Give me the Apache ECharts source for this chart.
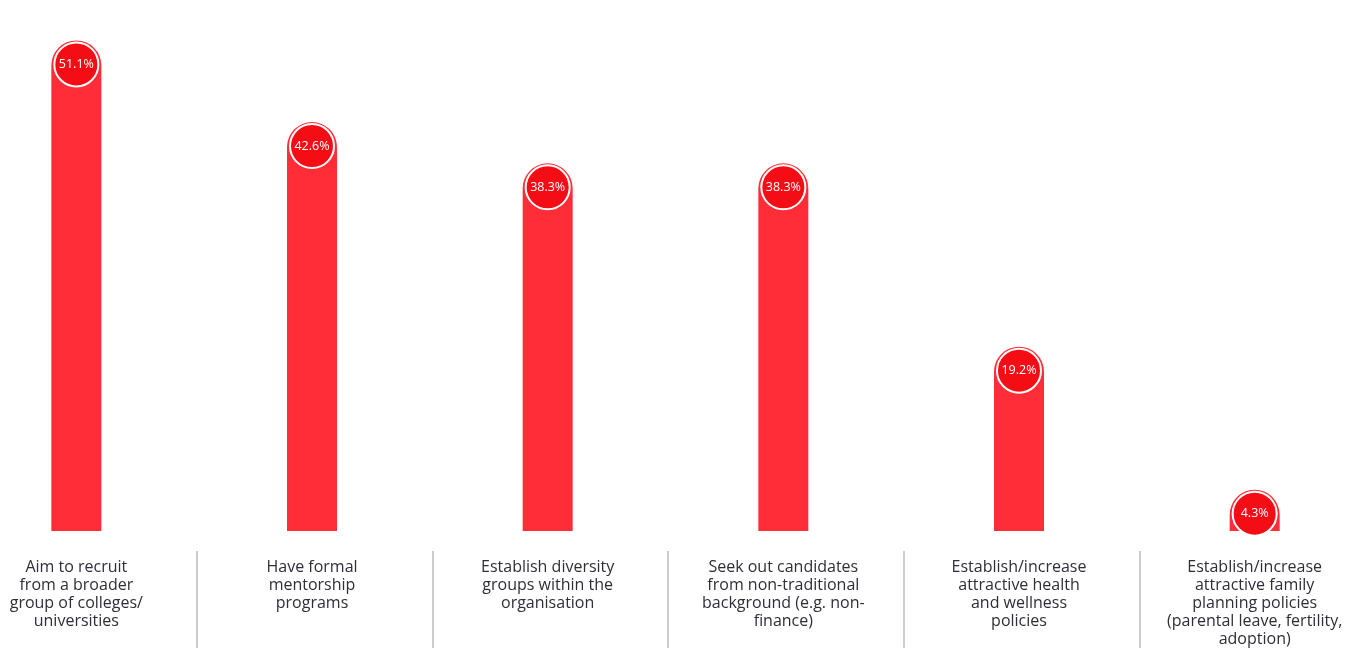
<!DOCTYPE html>
<html>
<head>
<meta charset="utf-8">
<script src="https://cdn.jsdelivr.net/npm/echarts@6/dist/echarts.min.js"></script>
<style>
html,body{margin:0;padding:0;background:#fff;}
#chart{width:1362px;height:648px;}
</style>
</head>
<body>
<div id="chart"></div>
<script>
const categories = [
  "Aim to recruit\nfrom a broader\ngroup of colleges/\nuniversities",
  "Have formal\nmentorship\nprograms",
  "Establish diversity\ngroups within the\norganisation",
  "Seek out candidates\nfrom non-traditional\nbackground (e.g. non-\nfinance)",
  "Establish/increase\nattractive health\nand wellness\npolicies",
  "Establish/increase\nattractive family\nplanning policies\n(parental leave, fertility,\nadoption)"
];
const values = [51.1, 42.6, 38.3, 38.3, 19.2, 4.3];

const FONT = "'Open Sans', 'Noto Sans', sans-serif";
const chart = echarts.init(document.getElementById('chart'));
chart.setOption({
  animation: false,
  backgroundColor: '#ffffff',
  grid: [
    {left: -41.5, width: 1414, top: 3, bottom: 117, containLabel: false, outerBoundsMode: 'none'},
    {left: -39, width: 1414, top: 3, bottom: 97, containLabel: false, outerBoundsMode: 'none'}
  ],
  xAxis: [
    {
      type: 'category', gridIndex: 0, data: categories,
      axisLine: {show: false}, axisTick: {show: false},
      axisLabel: {interval: 0, margin: 27, fontSize: 16, lineHeight: 18,
        color: '#2e2e38', fontFamily: FONT, verticalAlign: 'top'}
    },
    {
      type: 'category', gridIndex: 1, data: categories,
      axisLine: {show: false, onZero: false},
      axisTick: {show: true, length: 100, lineStyle: {color: '#bdbdbd', width: 1.5}},
      axisLabel: {show: false}
    }
  ],
  yAxis: [
    {type: 'value', gridIndex: 0, min: 0, max: 55, show: false},
    {type: 'value', gridIndex: 1, min: 0, max: 55, show: false}
  ],
  series: [
    {
      type: 'bar', xAxisIndex: 0, yAxisIndex: 0, data: values,
      barWidth: 50,
      itemStyle: {color: '#ff2d37', borderRadius: [25, 25, 0, 0]},
      label: {show: false}
    },
    {
      type: 'scatter', xAxisIndex: 0, yAxisIndex: 0, data: values,
      symbol: 'circle', symbolSize: 44, symbolOffset: [0, 24],
      itemStyle: {color: '#f50d16', borderColor: '#ffffff', borderWidth: 2, opacity: 1},
      label: {show: true, position: 'inside', formatter: p => p.value + '%',
        color: '#ffffff', fontSize: 12.5, fontFamily: FONT},
      z: 5
    }
  ]
});
</script>
</body>
</html>
